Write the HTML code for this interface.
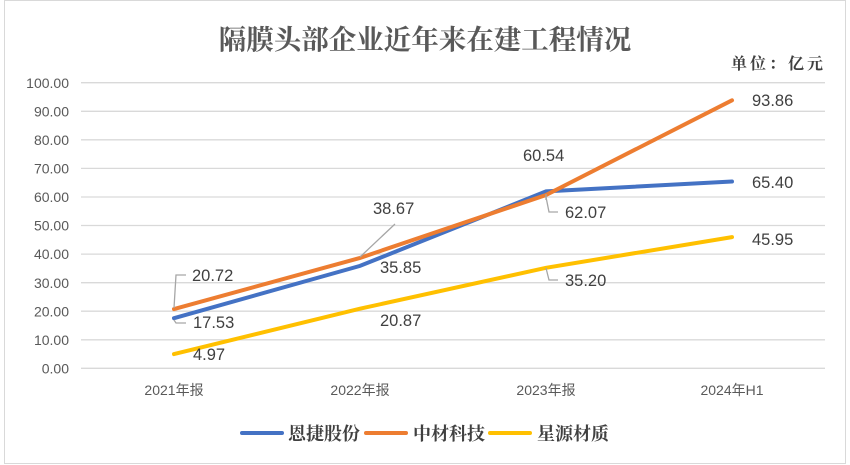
<!DOCTYPE html>
<html><head><meta charset="utf-8"><style>
body{margin:0;background:#fff;}
svg{display:block;font-family:"Liberation Sans","Noto Sans CJK SC",sans-serif;}
</style></head><body>
<svg width="850" height="465" viewBox="0 0 850 465">
<rect x="4.5" y="0.5" width="841" height="463" fill="#fff" stroke="#d9d9d9"/>
<text x="425" y="49" text-anchor="middle" font-size="27.5" font-weight="bold" fill="#595959" style="font-family:'Noto Serif CJK SC','Noto Sans CJK SC',serif">隔膜头部企业近年来在建工程情况</text>
<text x="826" y="69" text-anchor="end" font-size="16" font-weight="bold" fill="#404040" letter-spacing="3" style="font-family:'Noto Serif CJK SC','Noto Sans CJK SC',serif">单位：亿元</text>
<g stroke="#d9d9d9" stroke-width="1.3">
<line x1="81" x2="825" y1="82.7" y2="82.7"/><line x1="81" x2="825" y1="111.3" y2="111.3"/>
<line x1="81" x2="825" y1="139.8" y2="139.8"/><line x1="81" x2="825" y1="168.4" y2="168.4"/>
<line x1="81" x2="825" y1="197" y2="197"/><line x1="81" x2="825" y1="225.5" y2="225.5"/>
<line x1="81" x2="825" y1="254.1" y2="254.1"/><line x1="81" x2="825" y1="282.7" y2="282.7"/>
<line x1="81" x2="825" y1="311.2" y2="311.2"/><line x1="81" x2="825" y1="339.8" y2="339.8"/>
<line x1="81" x2="825" y1="368.3" y2="368.3"/>
</g>
<g font-size="14" fill="#595959" text-anchor="end">
<text x="69" y="88">100.00</text><text x="69" y="116.5">90.00</text><text x="69" y="145">80.00</text>
<text x="69" y="173.5">70.00</text><text x="69" y="202">60.00</text><text x="69" y="230.5">50.00</text>
<text x="69" y="259">40.00</text><text x="69" y="288">30.00</text><text x="69" y="316.5">20.00</text>
<text x="69" y="345">10.00</text><text x="69" y="373.5">0.00</text>
</g>
<g font-size="14" fill="#595959" text-anchor="middle">
<text x="174" y="395">2021年报</text><text x="360" y="395">2022年报</text>
<text x="546" y="395">2023年报</text><text x="732" y="395">2024年H1</text>
</g>
<g fill="none" stroke-width="4" stroke-linecap="round">
<polyline stroke="#4472c4" points="174,318.2 360,265.9 546,191.4 732,181.5"/>
<polyline stroke="#ed7d31" points="174,309.1 360,257.9 546,195.0 732,100.3"/>
<polyline stroke="#ffc000" points="174,354.1 360,308.7 546,267.8 732,237.1"/>
</g>
<g fill="none" stroke="#a6a6a6" stroke-width="1.3">
<polyline points="174,308 176,275 186,275"/>
<polyline points="174,320 176,323 186,323"/>
<polyline points="360,257 395,224"/>
<polyline points="546,194 546,200"/>
<polyline points="546,197 549,212 558,212"/>
<polyline points="546,268 549,280 558,280"/>
</g>
<g font-size="16.5" fill="#404040">
<text x="192" y="281">20.72</text><text x="193" y="328">17.53</text><text x="193" y="360">4.97</text>
<text x="373" y="214">38.67</text><text x="380" y="273">35.85</text><text x="380" y="326">20.87</text>
<text x="523" y="161">60.54</text><text x="565" y="218">62.07</text><text x="565" y="286">35.20</text>
<text x="752" y="106">93.86</text><text x="752" y="188">65.40</text><text x="752" y="245">45.95</text>
</g>
<g stroke-width="4" stroke-linecap="round">
<line x1="242" y1="433" x2="282" y2="433" stroke="#4472c4"/>
<line x1="366" y1="433" x2="406" y2="433" stroke="#ed7d31"/>
<line x1="490" y1="433" x2="530" y2="433" stroke="#ffc000"/>
</g>
<g font-size="18" fill="#404040" font-weight="bold" style="font-family:'Noto Serif CJK SC','Noto Sans CJK SC',serif">
<text x="288" y="440">恩捷股份</text><text x="413" y="440">中材科技</text><text x="537" y="440">星源材质</text>
</g>
</svg>
</body></html>
